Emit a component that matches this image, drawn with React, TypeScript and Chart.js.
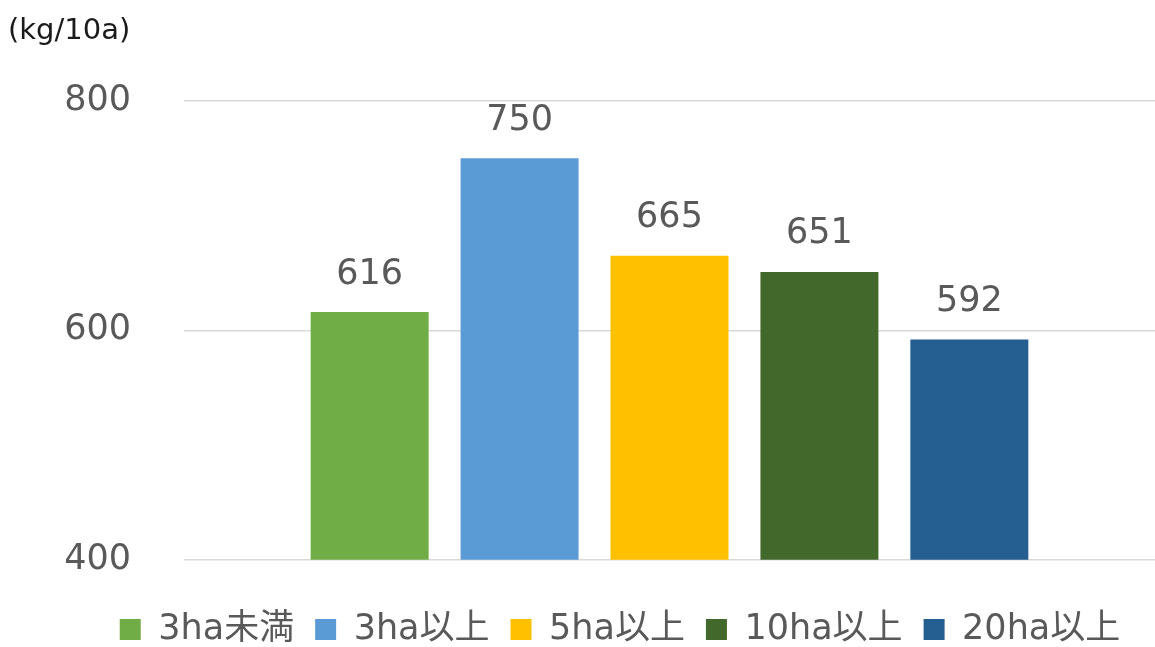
import React, { useEffect, useRef } from "react";
import { Chart, registerables } from "chart.js";

Chart.register(...registerables);

const seriesLabels = ["3ha未満", "3ha以上", "5ha以上", "10ha以上", "20ha以上"];
const seriesValues = [616, 750, 665, 651, 592];
const seriesColors = ["#70AD47", "#5B9BD5", "#FFC000", "#43682B", "#255E91"];
const categories = [""];
const yTicks = [400, 600, 800];
const unitLabel = "(kg/10a)";

const FONT = "'DejaVu Sans', 'Noto Sans CJK JP', sans-serif";
const TEXT = "#595959";

const valueLabelPlugin = {
  id: "valueLabels",
  afterDatasetsDraw(chart: any) {
    const ctx = chart.ctx;
    ctx.save();
    ctx.font = `35px ${FONT}`;
    ctx.fillStyle = TEXT;
    ctx.textAlign = "center";
    ctx.textBaseline = "bottom";
    chart.data.datasets.forEach((ds: any, i: number) => {
      const meta = chart.getDatasetMeta(i);
      meta.data.forEach((bar: any, j: number) => {
        ctx.fillText(String(ds.data[j]), bar.x, bar.y - 20);
      });
    });
    ctx.restore();
  },
};

const unitPlugin = {
  id: "unitLabel",
  afterDraw(chart: any) {
    const ctx = chart.ctx;
    ctx.save();
    ctx.font = `29px ${FONT}`;
    ctx.fillStyle = "#1a1a1a";
    ctx.textAlign = "left";
    ctx.textBaseline = "middle";
    ctx.fillText(unitLabel, 8, 31);
    ctx.restore();
  },
};

const legendShiftPlugin = {
  id: "legendShift",
  afterLayout(chart: any) {
    if (chart.legend) {
      chart.legend.left = 85;
    }
  },
};

export default function App() {
  const ref = useRef<HTMLCanvasElement>(null);
  useEffect(() => {
    if (!ref.current) return;
    const chart = new Chart(ref.current, {
      type: "bar",
      data: {
        labels: categories,
        datasets: seriesLabels.map((label, i) => ({
          label,
          data: [seriesValues[i]],
          backgroundColor: seriesColors[i],
          borderWidth: 0,
          categoryPercentage: 0.772,
          barPercentage: 0.787,
        })),
      },
      options: {
        animation: false,
        responsive: true,
        maintainAspectRatio: false,
        layout: { padding: { top: 101, left: 0, right: 0, bottom: -10 } },
        plugins: {
          tooltip: { enabled: false },
          legend: {
            position: "bottom",
            title: { display: true, text: " ", font: { size: 1 }, padding: { top: 30, bottom: 0 } },
            labels: {
              boxWidth: 21,
              boxHeight: 21,
              padding: 21,
              color: TEXT,
              font: { family: FONT, size: 35 },
            },
          },
        },
        scales: {
          x: { display: false },
          y: {
            min: 400,
            max: 800,
            afterFit: (s: any) => { s.width = 184; },
            afterBuildTicks: (s: any) => { s.ticks = yTicks.map((v) => ({ value: v })); },
            ticks: { color: TEXT, padding: 53, font: { family: FONT, size: 35 } },
            grid: { color: "#D9D9D9", lineWidth: 1.5, drawTicks: false },
            border: { display: false },
          },
        },
      },
      plugins: [valueLabelPlugin, unitPlugin, legendShiftPlugin],
    });
    return () => chart.destroy();
  }, []);
  return (
    <div style={{ position: "fixed", left: 0, top: 0, width: 1155, height: 647, background: "#fff" }}>
      <canvas ref={ref} />
    </div>
  );
}
